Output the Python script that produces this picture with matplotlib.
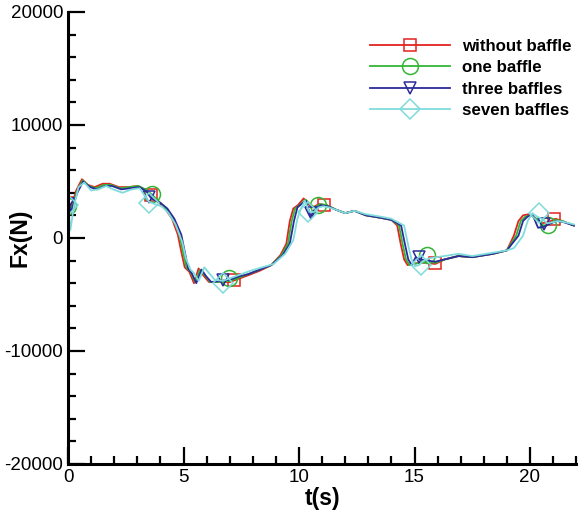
import matplotlib.pyplot as plt
from matplotlib.lines import Line2D
from matplotlib.ticker import MultipleLocator

# without baffle
t_red = [0, 0.15, 0.35, 0.6, 0.85, 1.15, 1.5, 1.8, 2.2, 2.6, 3.0, 3.3, 3.6, 3.9, 4.2, 4.5, 4.75, 4.9,
         5.05, 5.25, 5.45, 5.65, 5.85, 6.1, 6.5, 7.0, 7.4, 7.8, 8.3, 8.8, 9.2, 9.45, 9.6, 9.75, 9.95,
         10.2, 10.4, 10.6, 10.85, 11.2, 11.6, 12.0, 12.4, 12.9, 13.5, 14.0, 14.25, 14.4, 14.55, 14.7,
         14.9, 15.2, 15.5, 15.9, 16.3, 16.9, 17.5, 18.4, 19.0, 19.3, 19.5, 19.7, 19.95, 20.2, 20.5,
         20.8, 21.1, 21.4, 21.9]
F_red = [3300, 2800, 4200, 5200, 4700, 4500, 4800, 4800, 4500, 4500, 4600, 4300, 3800, 3200, 2600, 1700, 300, -1200,
         -2600, -3000, -4000, -2700, -3300, -3900, -3900, -3900, -3600, -3300, -2900, -2400, -1500, -500, 1500, 2600, 2900,
         3500, 3000, 2700, 3000, 2900, 2500, 2200, 2400, 2000, 1800, 1600, 1100, -500, -1900, -2400,
         -2300, -2200, -2200, -2300, -1900, -1600, -1700, -1400, -1100, 200, 1500, 2000, 2100, 1800, 1300,
         1400, 1700, 1500, 1100]

# one baffle
t_green = [0, 0.15, 0.38, 0.63, 0.9, 1.2, 1.55, 1.85, 2.25, 2.65, 3.05, 3.35, 3.65, 3.95, 4.25, 4.55, 4.82, 4.97,
           5.12, 5.3, 5.5, 5.72, 5.92, 6.15, 6.55, 7.0, 7.4, 7.8, 8.3, 8.8, 9.25, 9.52, 9.68, 9.83, 10.03,
           10.28, 10.48, 10.68, 10.9, 11.2, 11.6, 12.0, 12.4, 12.9, 13.5, 14.0, 14.33, 14.48, 14.63, 14.78,
           14.98, 15.25, 15.55, 15.9, 16.3, 16.9, 17.5, 18.4, 19.0, 19.4, 19.6, 19.8, 20.03, 20.28, 20.58,
           20.85, 21.1, 21.4, 21.9]
F_green = [3000, 2600, 4100, 5100, 4600, 4400, 4700, 4700, 4400, 4500, 4600, 4300, 3800, 3200, 2600, 1700, 300, -1200,
           -2600, -3000, -3900, -2800, -3300, -3900, -3900, -3800, -3500, -3200, -2800, -2400, -1500, -500, 1500, 2600, 2900,
           3400, 3000, 2700, 3000, 2900, 2500, 2200, 2400, 2000, 1800, 1600, 1100, -500, -1900, -2400,
           -2300, -2200, -2100, -2200, -1900, -1600, -1700, -1400, -1100, 200, 1500, 1900, 2000, 1700, 1100,
           1200, 1600, 1500, 1100]

# three baffles
t_blue = [0, 0.12, 0.4, 0.65, 0.95, 1.25, 1.6, 1.9, 2.3, 2.7, 3.1, 3.4, 3.6, 4.0, 4.3, 4.6, 4.9, 5.05,
          5.2, 5.35, 5.55, 5.78, 5.98, 6.2, 6.6, 7.0, 7.4, 7.8, 8.3, 8.8, 9.3, 9.6, 9.78, 9.93, 10.1,
          10.3, 10.5, 10.7, 10.95, 11.25, 11.6, 12.0, 12.4, 12.9, 13.5, 14.0, 14.42, 14.58, 14.73, 14.88,
          15.05, 15.25, 15.55, 15.9, 16.3, 16.9, 17.5, 18.4, 19.0, 19.5, 19.7, 19.9, 20.12, 20.35, 20.62,
          20.9, 21.15, 21.45, 21.9]
F_blue = [3300, 2300, 4000, 5000, 4500, 4300, 4600, 4600, 4300, 4400, 4500, 4100, 3500, 3100, 2600, 1700, 300, -1200,
          -2700, -3100, -4000, -2800, -3400, -3900, -3800, -3700, -3400, -3200, -2800, -2400, -1500, -500, 1500, 2700, 3000,
          3300, 1900, 2600, 2900, 2800, 2500, 2200, 2400, 2000, 1800, 1600, 1100, -500, -1900, -2400,
          -1700, -1900, -2000, -2100, -1900, -1600, -1700, -1400, -1100, 200, 1500, 1900, 2000, 900, 1000,
          1300, 1500, 1400, 1100]

# seven baffles
t_cyan = [0, 0.1, 0.25, 0.45, 0.7, 1.0, 1.3, 1.65, 1.95, 2.35, 2.75, 3.1, 3.5, 3.75, 4.05, 4.35, 4.65, 4.95,
          5.1, 5.3, 5.45, 5.65, 5.9, 6.1, 6.35, 6.7, 7.1, 7.5, 7.9, 8.4, 8.9, 9.4, 9.75, 9.93, 10.08,
          10.25, 10.45, 10.65, 10.85, 11.05, 11.3, 11.6, 12.0, 12.4, 12.9, 13.5, 14.0, 14.55, 14.72, 14.87,
          15.02, 15.2, 15.4, 15.65, 15.95, 16.3, 16.9, 17.5, 18.4, 19.0, 19.3, 19.7, 19.9, 20.1, 20.3,
          20.5, 20.75, 21.0, 21.2, 21.5, 21.9]
F_cyan = [3000, 700, 2800, 4500, 4900, 4200, 4300, 4600, 4300, 4000, 4300, 4400, 3200, 3000, 2800, 2200, 1200, -400,
          -1800, -2800, -3100, -3800, -2600, -3100, -3700, -3800, -3500, -3200, -2900, -2600, -2300, -1400, -200, 1700, 2600,
          3300, 2300, 2300, 2700, 2800, 2700, 2500, 2200, 2400, 2100, 1900, 1700, 1100, -600, -1900,
          -2500, -2400, -2000, -1800, -1700, -1600, -1400, -1600, -1300, -1100, -900, 200, 1500, 2200, 1900,
          1700, 1300, 1400, 1500, 1400, 1200]

# marker positions
mt_red = [0, 3.6, 7.2, 11.1, 15.9, 21.05]
mF_red = [3100, 3800, -3700, 2900, -2200, 1700]
mt_green = [0, 3.65, 6.95, 10.8, 15.55, 20.8]
mF_green = [2800, 3900, -3500, 2900, -1500, 1150]
mt_blue = [0, 3.5, 6.7, 10.5, 15.2, 20.6]
mF_blue = [3000, 3600, -3700, 2200, -1700, 1200]
mt_cyan = [0, 3.5, 6.7, 10.4, 15.3, 20.4]
mF_cyan = [2900, 3100, -4000, 2300, -2400, 2200]

labels = ['without baffle', 'one baffle', 'three baffles', 'seven baffles']
colors = ['#e3221f', '#35b535', '#2b2b9a', '#80dcdc']
markers = ['s', 'o', 'v', 'D']
msizes = [9, 11.5, 8.5, 10]

plt.rcParams['font.family'] = ['Liberation Sans', 'DejaVu Sans']
plt.rcParams['axes.unicode_minus'] = False

fig = plt.figure(figsize=(5.82, 5.19), dpi=100)
ax = fig.add_axes([0.117, 0.106, 0.873, 0.871])

series = [(t_red, F_red, mt_red, mF_red), (t_green, F_green, mt_green, mF_green),
          (t_blue, F_blue, mt_blue, mF_blue), (t_cyan, F_cyan, mt_cyan, mF_cyan)]
handles = []
for (t, F, mt, mF), lab, c, m, ms in zip(series, labels, colors, markers, msizes):
    ax.plot(t, F, color=c, lw=1.3)
    ax.plot(mt, mF, ls='none', marker=m, ms=ms, mfc='none', mec=c, mew=1.1)
    handles.append(Line2D([], [], color=c, lw=1.3, marker=m, ms=ms, mfc='none', mec=c, mew=1.1))

ax.set_xlim(0, 22)
ax.set_ylim(-20000, 20000)
ax.xaxis.set_major_locator(MultipleLocator(5))
ax.xaxis.set_minor_locator(MultipleLocator(1))
ax.yaxis.set_major_locator(MultipleLocator(10000))
ax.yaxis.set_minor_locator(MultipleLocator(2000))
ax.tick_params(which='both', direction='in', labelsize=13.5, width=1.6)
ax.tick_params(which='major', length=12)
ax.tick_params(which='minor', length=6)
ax.spines['top'].set_visible(False)
ax.spines['right'].set_visible(False)
ax.spines['left'].set_linewidth(2.2)
ax.spines['bottom'].set_linewidth(2.2)
ax.set_xlabel('t(s)', fontsize=16.5, fontweight='bold', labelpad=1)
ax.set_ylabel('Fx(N)', fontsize=16.5, fontweight='bold')
ax.yaxis.set_label_coords(-0.073, 0.5)

ax.legend(handles, labels, loc='upper left', bbox_to_anchor=(0.594, 0.94), frameon=False,
          borderpad=0, borderaxespad=0,
          handlelength=4.7, handletextpad=0.75, labelspacing=0.37,
          prop={'weight': 'bold', 'size': 12.2})

fig.savefig('out.png', dpi=100)
